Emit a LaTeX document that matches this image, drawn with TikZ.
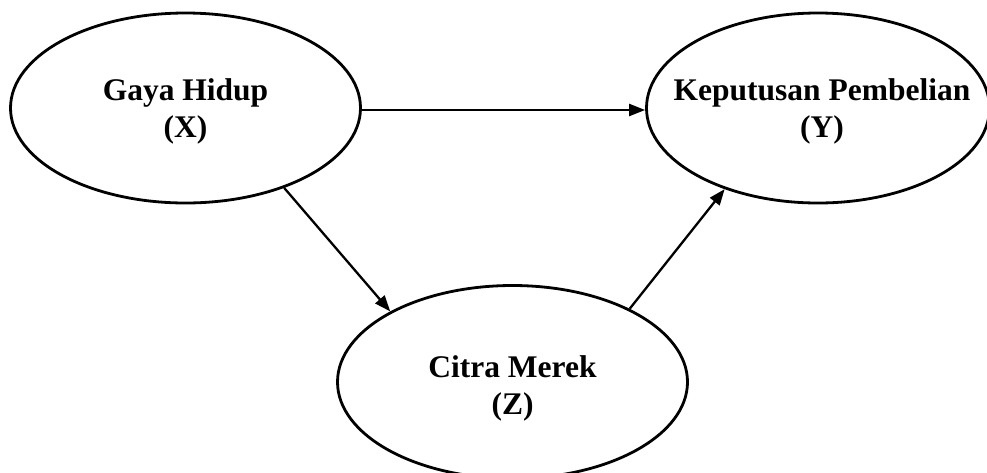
\documentclass[tikz,border=0pt]{standalone}
\usepackage{fontspec}
\setmainfont{Liberation Serif}
\usetikzlibrary{shapes.geometric,arrows.meta}
\tikzset{
  ell/.style={draw=black, line width=2.8pt, ellipse, inner sep=0pt, minimum width=350pt, minimum height=190pt},
  lbl/.style={align=center, inner sep=0pt, font=\fontsize{31.5}{36.7}\selectfont\bfseries},
  conn/.style={draw=black, line width=2.3pt, -{Triangle[length=16pt,width=12pt]}}
}
\begin{document}
\begin{tikzpicture}[x=1pt,y=-1pt]
\useasboundingbox (0,0) rectangle (987,472);
\clip (0,0) rectangle (987,472);
\node[ell] (x) at (185.5,108) {};
\node[ell, minimum width=343pt] (y) at (818,108) {};
\node[ell, minimum height=193pt] (z) at (512.5,382) {};
\node[lbl, anchor=base] (xl) at (185.5,137) {Gaya Hidup\\(X)};
\node[lbl, anchor=base] (yl) at (822,137) {Keputusan Pembelian\\(Y)};
\node[lbl, anchor=base] (zl) at (512.5,414) {Citra Merek\\(Z)};
\draw[conn] (x.east) ++(0,2) coordinate (xs) -- (xs -| y.west);
\draw[conn] (x.-39.4) -- (z.150.3);
\draw[conn] (z.32.5) -- (y.221.8);
\end{tikzpicture}
\end{document}
